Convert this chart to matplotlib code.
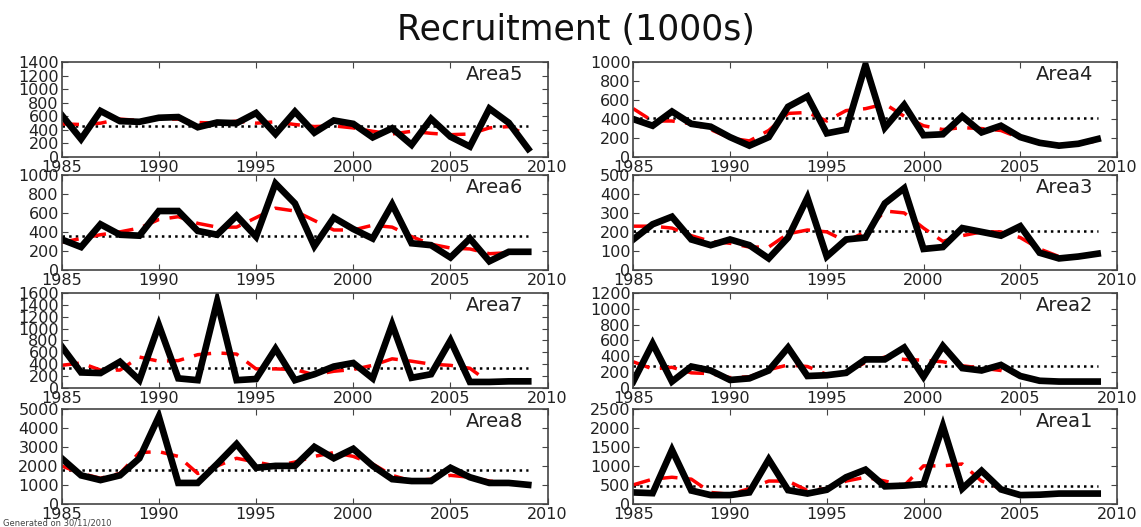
import matplotlib
matplotlib.use("Agg")
import matplotlib.pyplot as plt
import numpy as np

years = np.arange(1985, 2010)

# left column top->bottom, right column top->bottom
area5 = [620, 265, 680, 530, 520, 580, 590, 440, 510, 500, 650, 340, 670, 360, 540,
         490, 290, 425, 180, 565, 300, 155, 715, 505, 120]
area5_smooth = [490, 480, 500, 560, 540, 560, 560, 510, 500, 530, 500, 520, 480, 450, 460,
                430, 380, 340, 380, 350, 330, 340, 430, 450, 320]
area5_mean = 460

area6 = [320, 240, 480, 370, 360, 620, 620, 410, 370, 570, 350, 910, 700, 250, 550,
         430, 330, 690, 280, 260, 130, 330, 90, 190, 190]
area6_smooth = [290, 330, 370, 400, 440, 530, 560, 490, 450, 450, 550, 650, 620, 520, 420,
                420, 470, 450, 350, 270, 230, 220, 170, 180, 180]
area6_mean = 360

area7 = [700, 260, 250, 440, 130, 1060, 160, 130, 1460, 130, 150, 660, 130, 230, 360,
         420, 160, 1070, 170, 230, 800, 100, 100, 110, 110]
area7_smooth = [380, 420, 300, 300, 520, 450, 460, 560, 590, 570, 320, 320, 310, 220, 280,
                310, 380, 490, 450, 400, 380, 330, 90, 100, 110]
area7_mean = 340

area8 = [2400, 1500, 1250, 1500, 2400, 4600, 1100, 1100, 2100, 3150, 1900, 2000, 2000, 3000, 2400,
         2900, 2000, 1300, 1200, 1200, 1900, 1400, 1100, 1100, 1000]
area8_smooth = [2000, 1600, 1350, 1600, 2700, 2750, 2500, 1600, 2000, 2400, 2200, 2000, 2200, 2500, 2700,
                2500, 2100, 1500, 1200, 1300, 1500, 1400, 1200, 1100, 1000]
area8_mean = 1800

area4 = [400, 330, 480, 350, 320, 210, 120, 210, 530, 640, 250, 290, 970, 310, 550,
         230, 240, 430, 260, 330, 210, 150, 120, 140, 190]
area4_smooth = [510, 380, 380, 350, 290, 200, 170, 280, 460, 470, 380, 490, 510, 560, 430,
                330, 290, 310, 300, 280, 200, 160, 130, 140, 170]
area4_mean = 410

area3 = [160, 240, 280, 160, 130, 160, 130, 60, 170, 380, 70, 160, 170, 350, 430,
         110, 120, 220, 200, 180, 230, 90, 60, 70, 85]
area3_smooth = [230, 230, 220, 180, 150, 140, 120, 120, 190, 210, 200, 150, 200, 310, 300,
                220, 150, 180, 200, 200, 170, 110, 70, 70, 80]
area3_mean = 205

area2 = [80, 560, 80, 270, 220, 100, 120, 220, 510, 150, 160, 190, 360, 360, 510,
         140, 530, 250, 220, 290, 150, 90, 80, 80, 80]
area2_smooth = [330, 240, 260, 190, 180, 130, 140, 230, 290, 270, 170, 200, 320, 390, 360,
                350, 330, 280, 250, 220, 160, 100, 80, 80, 80]
area2_mean = 280

area1 = [300, 280, 1420, 350, 230, 230, 300, 1170, 360, 270, 370, 700, 900, 460, 480,
         520, 2050, 400, 870, 380, 230, 240, 270, 270, 270]
area1_smooth = [500, 650, 700, 650, 300, 250, 400, 600, 600, 350, 400, 600, 700, 600, 480,
                1000, 1000, 1050, 600, 400, 250, 250, 280, 280, 270]
area1_mean = 480

panels = [
    ("Area5", area5, area5_smooth, area5_mean, 1400, 200),
    ("Area4", area4, area4_smooth, area4_mean, 1000, 200),
    ("Area6", area6, area6_smooth, area6_mean, 1000, 200),
    ("Area3", area3, area3_smooth, area3_mean, 500, 100),
    ("Area7", area7, area7_smooth, area7_mean, 1600, 200),
    ("Area2", area2, area2_smooth, area2_mean, 1200, 200),
    ("Area8", area8, area8_smooth, area8_mean, 5000, 1000),
    ("Area1", area1, area1_smooth, area1_mean, 2500, 500),
]

fig = plt.figure(figsize=(11.41, 5.27), dpi=100)
fig.text(0.505, 0.943, "Recruitment (1000s)", ha="center", va="center", fontsize=25,
         color="#111111")

lefts = [0.054, 0.555]
widths = [0.426, 0.424]
bottoms = [0.702, 0.488, 0.264, 0.044]
height = 0.18

for i, (name, vals, smooth, mean, ymax, ystep) in enumerate(panels):
    row, col = i // 2, i % 2
    ax = fig.add_axes([lefts[col], bottoms[row], widths[col], height])
    ax.plot(years, [mean] * len(years), color="black", linestyle=":", linewidth=1.8)
    ax.plot(years, smooth, color="red", linestyle="--", linewidth=2.5, dashes=(5, 3))
    ax.plot(years, vals, color="black", linewidth=4.8, solid_joinstyle="miter")
    ax.set_xlim(1985, 2010)
    ax.set_ylim(0, ymax)
    ax.set_xticks(np.arange(1985, 2011, 5))
    ax.set_yticks(np.arange(0, ymax + 1, ystep))
    ax.tick_params(direction="in", top=True, right=True, labelsize=11.5, length=4,
                   pad=2, colors="#444444", labelcolor="#222222")
    for s in ax.spines.values():
        s.set_color("#444444")
        s.set_linewidth(1.2)
    ax.text(0.95, 0.87, name, transform=ax.transAxes, ha="right", va="center",
            fontsize=14, color="#222222")

fig.text(0.003, 0.002, "Generated on 30/11/2010", fontsize=6, color="#444444")

fig.savefig("out.png", dpi=100)
